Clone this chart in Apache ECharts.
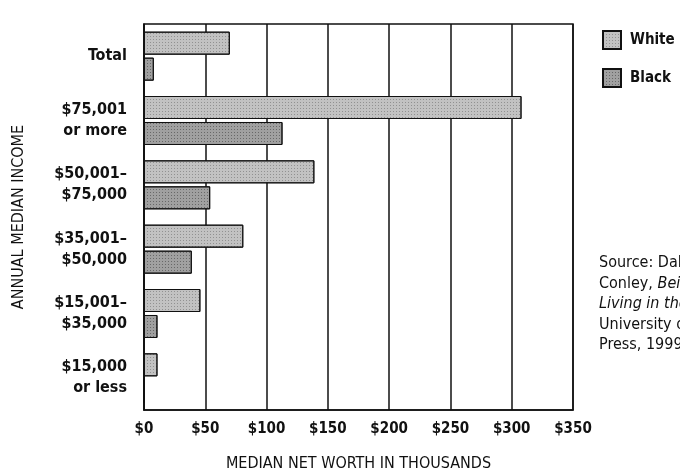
<!DOCTYPE html>
<html>
<head>
<meta charset="utf-8">
<script src="https://cdn.jsdelivr.net/npm/echarts@6/dist/echarts.min.js"></script>
<style>
  html, body { margin: 0; padding: 0; background: #fff; }
  #chart { width: 680px; height: 474px; }
</style>
</head>
<body>
<div id="chart"></div>
<script>
const categories = ['Total', '$75,001\nor more', '$50,001–\n$75,000', '$35,001–\n$50,000', '$15,001–\n$35,000', '$15,000\nor less']
const whiteValues = [70, 308, 139, 81, 46, 11]
const blackValues = [8, 113, 54, 39, 11, 0]
const xTicks = [0, 50, 100, 150, 200, 250, 300, 350]

const FONT = '"DejaVu Sans Condensed", sans-serif'

const chart = echarts.init(document.getElementById('chart'))

function barStyle(fill, dots) {
  return {
    color: fill,
    borderColor: '#111',
    borderWidth: 1,
    decal: {
      symbol: 'rect',
      symbolSize: 1,
      dashArrayX: [1, 2],
      dashArrayY: [1, 2],
      color: dots,
    },
  }
}

chart.setOption({
  animation: false,
  textStyle: { fontFamily: FONT, color: '#111' },
  grid: {
    left: 144, right: 107, top: 24, bottom: 64,
    outerBoundsMode: 'none',
    show: true, borderColor: '#111', borderWidth: 1.5,
  },
  legend: {
    orient: 'vertical',
    left: 597, top: 25,
    itemWidth: 18, itemHeight: 18, itemGap: 18,
    icon: 'rect',
    textStyle: {
      fontFamily: FONT, fontSize: 15, fontWeight: 'bold', color: '#111',
      padding: [0, 0, 0, 4],
    },
    data: ['White', 'Black'],
  },
  xAxis: {
    type: 'value',
    min: xTicks[0],
    max: xTicks[xTicks.length - 1],
    interval: 50,
    name: 'MEDIAN NET WORTH IN THOUSANDS',
    nameLocation: 'middle',
    nameGap: 46,
    nameTextStyle: { fontFamily: FONT, fontSize: 16, color: '#111' },
    axisLine: { show: true, lineStyle: { color: '#111', width: 1.5 } },
    axisTick: { show: false },
    axisLabel: {
      margin: 12,
      fontFamily: FONT, fontSize: 15, fontWeight: 'bold', color: '#111',
      formatter: v => '$' + v,
    },
    splitLine: { show: true, lineStyle: { color: '#111', width: 1.5 } },
  },
  yAxis: {
    type: 'category',
    data: categories,
    inverse: true,
    name: 'ANNUAL MEDIAN INCOME',
    nameLocation: 'middle',
    nameGap: 117,
    nameRotate: 90,
    nameTextStyle: { fontFamily: FONT, fontSize: 16, color: '#111' },
    axisLine: { show: true, lineStyle: { color: '#111', width: 1.5 } },
    axisTick: { show: false },
    axisLabel: {
      margin: 17,
      fontFamily: FONT, fontSize: 16, fontWeight: 'bold', color: '#111',
      lineHeight: 21, align: 'right',
    },
  },
  series: [
    {
      name: 'White', type: 'bar', data: whiteValues,
      barWidth: 23, barGap: '13%',
      itemStyle: barStyle('#c2c2c2', 'rgba(0,0,0,0.25)'),
    },
    {
      name: 'Black', type: 'bar', data: blackValues,
      barWidth: 23,
      itemStyle: barStyle('#a0a0a0', 'rgba(0,0,0,0.35)'),
    },
  ],
  graphic: [{
    type: 'text',
    left: 599, top: 253,
    style: {
      text: 'Source: Dalton\nConley, {i|Being Black,}\n{i|Living in the Red,}\nUniversity of California\nPress, 1999.',
      font: '16px ' + FONT,
      fill: '#111',
      lineHeight: 20.5,
      rich: { i: { fontStyle: 'italic', fontFamily: FONT, fontSize: 16, lineHeight: 20.5 } },
    },
  }],
})
</script>
</body>
</html>
